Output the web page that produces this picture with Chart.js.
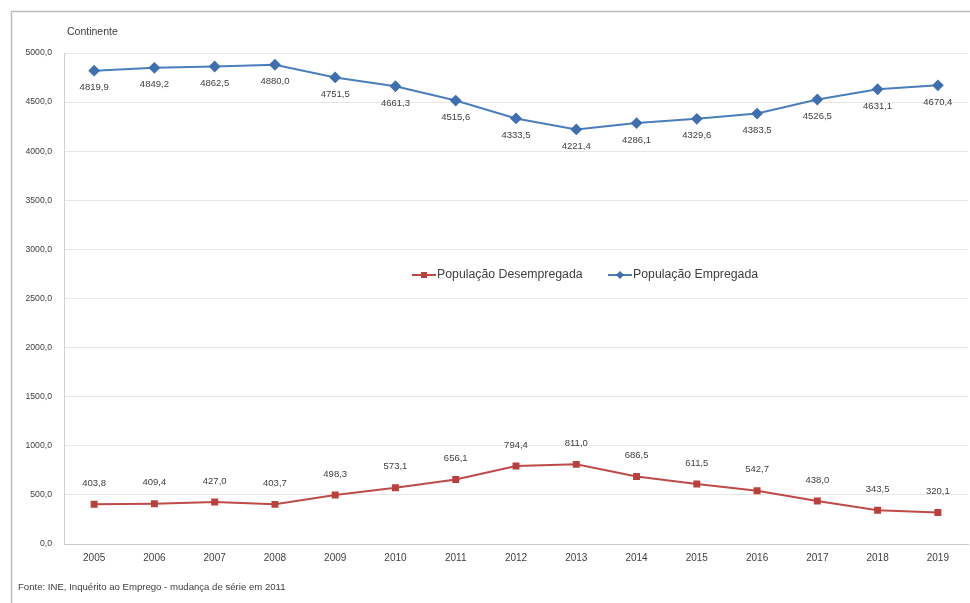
<!DOCTYPE html>
<html lang="pt">
<head>
<meta charset="utf-8">
<title>População Empregada e Desempregada – Continente</title>
<script src="https://cdn.jsdelivr.net/npm/chart.js@4.4.1/dist/chart.umd.min.js"></script>
<style>
  html, body { margin: 0; padding: 0; background: #ffffff; }
  #wrap { position: relative; width: 970px; height: 603px; }
  canvas { display: block; }
</style>
</head>
<body>
<div id="wrap"><canvas id="chart" width="970" height="603"></canvas></div>
<script>
// Anos do Inquérito ao Emprego (milhares de pessoas)
const years = ['2005','2006','2007','2008','2009','2010','2011','2012','2013','2014','2015','2016','2017','2018','2019'];
const desempregada = [403.8, 409.4, 427.0, 403.7, 498.3, 573.1, 656.1, 794.4, 811.0, 686.5, 611.5, 542.7, 438.0, 343.5, 320.1];
const empregada = [4819.9, 4849.2, 4862.5, 4880.0, 4751.5, 4661.3, 4515.6, 4333.5, 4221.4, 4286.1, 4329.6, 4383.5, 4526.5, 4631.1, 4670.4];
const yTicks = [0, 500, 1000, 1500, 2000, 2500, 3000, 3500, 4000, 4500, 5000];
const seriesNames = ['População Desempregada', 'População Empregada'];
const titleText = 'Continente';
const sourceText = 'Fonte: INE, Inquérito ao Emprego - mudança de série em 2011';

const RED = '#be4b48';
const BLUE = '#4a7ebb';
const FONT = '"Liberation Sans", Arial, sans-serif';

const fmt = v => v.toFixed(1).replace('.', ',');

// Frame, title, source note, value labels and the in-plot legend
const decorations = {
  id: 'decorations',
  beforeDraw(chart) {
    const ctx = chart.ctx;
    ctx.save();
    ctx.fillStyle = '#ffffff';
    ctx.fillRect(0, 0, chart.width, chart.height);
    ctx.strokeStyle = '#bdbdbd';
    ctx.lineWidth = 1.5;
    ctx.beginPath();
    ctx.moveTo(11.5, chart.height);
    ctx.lineTo(11.5, 11.5);
    ctx.lineTo(chart.width, 11.5);
    ctx.stroke();
    ctx.restore();
  },
  afterDatasetsDraw(chart) {
    const ctx = chart.ctx;
    ctx.save();
    ctx.font = '9.5px ' + FONT;
    ctx.textAlign = 'center';
    ctx.textBaseline = 'middle';
    ctx.fillStyle = '#404040';
    chart.data.datasets.forEach((ds, i) => {
      const meta = chart.getDatasetMeta(i);
      meta.data.forEach((pt, j) => {
        const dy = ds.labelAbove ? -21 : 17;
        ctx.fillText(fmt(ds.data[j]), pt.x, pt.y + dy);
      });
    });

    // title
    ctx.textAlign = 'left';
    ctx.font = '10.5px ' + FONT;
    ctx.fillStyle = '#404040';
    ctx.fillText(titleText, 67, 32);

    // source
    ctx.font = '9.6px ' + FONT;
    ctx.fillText(sourceText, 18, 587);

    // legend
    const legendY = 275;
    const starts = [412, 608];
    ctx.font = '12.3px ' + FONT;
    chart.data.datasets.forEach((ds, i) => {
      const x0 = starts[i];
      ctx.strokeStyle = ds.borderColor;
      ctx.lineWidth = 2;
      ctx.beginPath();
      ctx.moveTo(x0, legendY);
      ctx.lineTo(x0 + 24, legendY);
      ctx.stroke();
      ctx.fillStyle = ds.pointBackgroundColor;
      const cx = x0 + 12;
      if (ds.pointStyle === 'rect') {
        ctx.fillRect(cx - 3, legendY - 3, 6, 6);
      } else {
        ctx.beginPath();
        ctx.moveTo(cx, legendY - 4);
        ctx.lineTo(cx + 4, legendY);
        ctx.lineTo(cx, legendY + 4);
        ctx.lineTo(cx - 4, legendY);
        ctx.closePath();
        ctx.fill();
      }
      ctx.fillStyle = '#404040';
      ctx.fillText(ds.label, x0 + 25, legendY);
    });
    ctx.restore();
  }
};

new Chart(document.getElementById('chart'), {
  type: 'line',
  data: {
    labels: years,
    datasets: [
      {
        label: seriesNames[0],
        data: desempregada,
        borderColor: RED,
        backgroundColor: RED,
        pointBackgroundColor: '#b8403d',
        pointBorderColor: '#b8403d',
        pointStyle: 'rect',
        pointRadius: 3.5,
        borderWidth: 2,
        tension: 0,
        labelAbove: true
      },
      {
        label: seriesNames[1],
        data: empregada,
        borderColor: BLUE,
        backgroundColor: BLUE,
        pointBackgroundColor: '#3f6fae',
        pointBorderColor: '#3f6fae',
        pointStyle: 'rectRot',
        pointRadius: 4.5,
        borderWidth: 2,
        tension: 0,
        labelAbove: false
      }
    ]
  },
  options: {
    responsive: false,
    animation: false,
    devicePixelRatio: 1,
    layout: { autoPadding: false, padding: { left: 12, top: 53, right: 2, bottom: 0 } },
    plugins: {
      legend: { display: false },
      tooltip: { enabled: false },
      title: { display: false }
    },
    scales: {
      x: {
        offset: true,
        grid: { display: false, drawTicks: false },
        border: { color: '#c8c8c8', width: 1 },
        ticks: {
          padding: 8,
          color: '#404040',
          font: { family: FONT, size: 10 },
          maxRotation: 0,
          autoSkip: false
        },
        afterFit(scale) { scale.height = 59; }
      },
      y: {
        min: 0,
        max: 5000,
        afterBuildTicks(scale) { scale.ticks = yTicks.map(v => ({ value: v })); },
        grid: { color: '#e6e6e6', drawTicks: false, lineWidth: 1 },
        border: { color: '#d0d0d0', width: 1 },
        ticks: {
          padding: 12,
          color: '#404040',
          font: { family: FONT, size: 8.7 },
          callback: v => fmt(v)
        },
        afterFit(scale) { scale.width = 52; }
      }
    }
  },
  plugins: [decorations]
});
</script>
</body>
</html>
